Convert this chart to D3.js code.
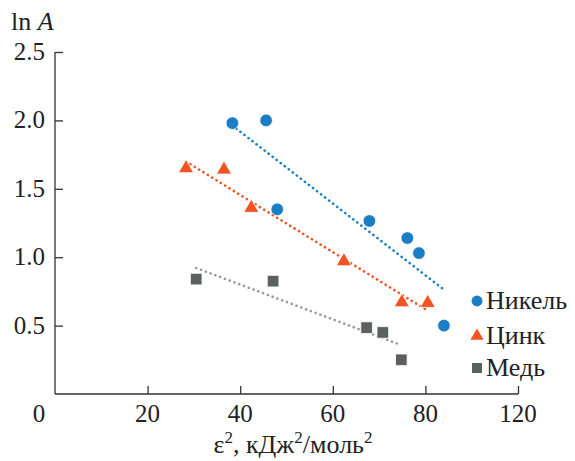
<!DOCTYPE html>
<html>
<head>
<meta charset="utf-8">
<script src="https://cdn.jsdelivr.net/npm/d3@7"></script>
<style>
  body { margin: 0; background: #fff; }
  svg { font-family: "Liberation Serif", "DejaVu Serif", serif; }
</style>
</head>
<body>
<svg width="575" height="461"></svg>
<script>
// values
var nickelX = [38.3, 45.6, 48.0, 67.9, 76.1, 78.6, 84.0];
var nickelY = [1.98, 2.00, 1.35, 1.265, 1.14, 1.03, 0.50];
var zincX = [28.3, 36.5, 42.4, 62.4, 74.9, 80.5];
var zincY = [1.65, 1.64, 1.36, 0.97, 0.67, 0.665];
var copperX = [30.5, 47.1, 67.3, 70.8, 74.8];
var copperY = [0.84, 0.825, 0.485, 0.45, 0.25];

var seriesNames = ["Никель", "Цинк", "Медь"];
var yTicks = [0.5, 1.0, 1.5, 2.0, 2.5];
var xTicks = [20, 40, 60, 80, 100];
var xTickLabels = ["20", "40", "60", "80", "120"]; // the original axis labels its last tick 120

var svg = d3.select("svg"),
    mLeft = 55, mRight = 518, mTop = 52, mBottom = 394;

var x = d3.scaleLinear().domain([0, 100]).range([mLeft, mRight]);
var y = d3.scaleLinear().domain([0, 2.5]).range([mBottom, mTop]);

var series = [
  {name: seriesNames[0], xs: nickelX, ys: nickelY, color: "#1b7dc6", line: "#1b7dc6", shape: d3.symbolCircle, size: 125},
  {name: seriesNames[1], xs: zincX, ys: zincY, color: "#f25322", line: "#f25322", shape: d3.symbolTriangle, size: 100},
  {name: seriesNames[2], xs: copperX, ys: copperY, color: "#5b6060", line: "#9a9c9c", shape: d3.symbolSquare, size: 135}
];

// axes
var yAxis = svg.append("g")
    .attr("transform", "translate(" + mLeft + ",0)")
    .call(d3.axisRight(y).tickValues(yTicks).tickSize(8));
yAxis.select(".domain").attr("d", "M0," + mTop + "V" + mBottom).attr("stroke", "#333").attr("stroke-width", 1.3);
yAxis.selectAll("text").remove();
yAxis.selectAll("line").attr("stroke", "#333").attr("stroke-width", 1.3);

svg.selectAll(".ylab")
  .data(yTicks)
  .enter().append("text")
    .attr("x", 45)
    .attr("y", function(d) { return y(d) + 8; })
    .attr("text-anchor", "end")
    .attr("font-size", 25)
    .attr("fill", "#222")
    .text(d3.format(".1f"));

var xAxis = svg.append("g")
    .attr("transform", "translate(0," + mBottom + ")")
    .call(d3.axisTop(x).tickValues(xTicks).tickSize(8));
xAxis.select(".domain").attr("d", "M" + mLeft + ",0H" + mRight).attr("stroke", "#333").attr("stroke-width", 1.3);
xAxis.selectAll("line").attr("stroke", "#333").attr("stroke-width", 1.3);
xAxis.selectAll("text").remove();

svg.selectAll(".xlab")
  .data(xTicks)
  .enter().append("text")
    .attr("x", function(d) { return x(d); })
    .attr("y", 422)
    .attr("text-anchor", "middle")
    .attr("font-size", 25)
    .attr("fill", "#222")
    .text(function(d, i) { return xTickLabels[i]; });

// corner zero
svg.append("text")
    .attr("x", 39).attr("y", 422)
    .attr("text-anchor", "middle")
    .attr("font-size", 25).attr("fill", "#222")
    .text("0");

// axis titles
var yt = svg.append("text").attr("x", 11).attr("y", 30).attr("font-size", 26).attr("fill", "#222");
yt.append("tspan").text("ln ");
yt.append("tspan").attr("font-style", "italic").text("A");

var xt = svg.append("text").attr("x", 293).attr("y", 453).attr("text-anchor", "middle")
    .attr("font-size", 26).attr("fill", "#222");
xt.append("tspan").text("ε");
xt.append("tspan").attr("font-size", 17).attr("dy", -10).text("2");
xt.append("tspan").attr("dy", 10).text(", кДж");
xt.append("tspan").attr("font-size", 17).attr("dy", -10).text("2");
xt.append("tspan").attr("dy", 10).text("/моль");
xt.append("tspan").attr("font-size", 17).attr("dy", -10).text("2");

// least-squares trend lines
function fit(xs, ys) {
  var mx = d3.mean(xs), my = d3.mean(ys), sxy = 0, sxx = 0;
  xs.forEach(function(v, i) { sxy += (v - mx) * (ys[i] - my); sxx += (v - mx) * (v - mx); });
  var b = sxy / sxx;
  return function(v) { return my + b * (v - mx); };
}

series.forEach(function(s) {
  var f = fit(s.xs, s.ys), x0 = d3.min(s.xs), x1 = d3.max(s.xs);
  svg.append("line")
      .attr("x1", x(x0)).attr("y1", y(f(x0)))
      .attr("x2", x(x1)).attr("y2", y(f(x1)))
      .attr("stroke", s.line)
      .attr("stroke-width", 2.6)
      .attr("stroke-linecap", "round")
      .attr("stroke-dasharray", "0.1,5");
});

series.forEach(function(s) {
  svg.append("g").selectAll("path")
    .data(s.xs)
    .enter().append("path")
      .attr("transform", function(d, i) { return "translate(" + x(d) + "," + y(s.ys[i]) + ")"; })
      .attr("d", d3.symbol().type(s.shape).size(s.size))
      .attr("fill", s.color)
      .attr("stroke", "#fff")
      .attr("stroke-width", 0.8);
});

// legend
var legend = svg.append("g").selectAll("g")
  .data(series)
  .enter().append("g")
    .attr("transform", function(d, i) { return "translate(477," + [301, 336, 368][i] + ")"; });

legend.append("path")
    .attr("d", function(d) { return d3.symbol().type(d.shape).size(d.size * 0.75)(); })
    .attr("fill", function(d) { return d.color; });

legend.append("text")
    .attr("x", 9).attr("y", 8)
    .attr("font-size", 26).attr("fill", "#222")
    .text(function(d) { return d.name; });
</script>
</body>
</html>
